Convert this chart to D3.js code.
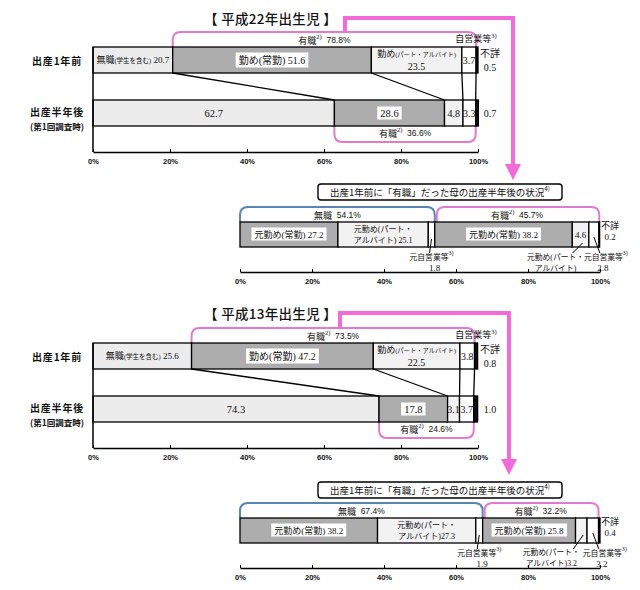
<!DOCTYPE html>
<html>
<head>
<meta charset="utf-8">
<script src="https://cdn.jsdelivr.net/npm/d3@7"></script>
<style>
  body { margin: 0; background: #fff; }
  svg text { font-family: "Liberation Serif", "Noto Sans CJK JP", serif; fill: #111; }
</style>
</head>
<body>
<div id="chart"></div>
<script>
// ---- data ----
const tickLabels = ['0%', '20%', '40%', '60%', '80%', '100%'];
const tickValues = [0, 20, 40, 60, 80, 100];
const rowLabels = ['出産1年前', '出産半年後'];
const rowNote = '(第1回調査時)';
const mainCats = ['無職(学生を含む)', '勤め(常勤)', '勤め(パート・アルバイト)', '自営業等', '不詳'];
const subCats = ['元勤め(常勤)', '元勤め(パート・アルバイト)', '元自営業等',
                 '元勤め(常勤)', '元勤め(パート・アルバイト)', '元自営業等', '不詳'];
const groupCats = ['無職', '有職'];
const subTitle = '出産1年前に「有職」だった母の出産半年後の状況';

// 平成22年出生児
const h22Before = [20.7, 51.6, 23.5, 3.7, 0.5];
const h22After = [62.7, 28.6, 4.8, 3.3, 0.7];
const h22Employed = [78.8, 36.6];
const h22Sub = [27.2, 25.1, 1.8, 38.2, 4.6, 2.8, 0.2];
const h22SubGroups = [54.1, 45.7];

// 平成13年出生児
const h13Before = [25.6, 47.2, 22.5, 3.8, 0.8];
const h13After = [74.3, 17.8, 3.1, 3.7, 1.0];
const h13Employed = [73.5, 24.6];
const h13Sub = [38.2, 27.3, 1.9, 25.8, 3.2, 3.2, 0.4];
const h13SubGroups = [67.4, 32.2];

// ---- setup ----
const svg = d3.select('#chart').append('svg')
    .attr('width', 640)
    .attr('height', 590);

const fmt = d3.format('.1f');
const xMain = d3.scaleLinear().domain([0, 100]).range([93, 478]);
const xSub = d3.scaleLinear().domain([0, 100]).range([240, 600]);

const mainFill = ['#ececec', '#adadad', '#f2f2f2', '#ffffff', '#111111'];
const subFill = ['#adadad', '#f2f2f2', '#ffffff', '#adadad', '#f2f2f2', '#ffffff', '#111111'];
const PINK = '#e07bd0', ARROW = '#f36ad9', BLUE = '#5a84b4';
const GOTHIC = '"Noto Sans CJK JP", sans-serif';
const SANS = '"Liberation Sans", Arial, sans-serif';

function stackOf(vals) {
  const ends = Array.from(d3.cumsum(vals));
  return vals.map((v, i) => ({v: v, x0: ends[i] - v, x1: ends[i], i: i}));
}

// text with tspans; parts may be strings or {t, s (size), sup, f (family), w (weight)}
function label(g, x, y, parts, o = {}) {
  const t = g.append('text')
      .attr('x', x)
      .attr('y', y)
      .attr('text-anchor', o.anchor || 'middle')
      .attr('dominant-baseline', 'central')
      .style('font-size', (o.size || 9) + 'px');
  if (o.family) t.style('font-family', o.family);
  if (o.weight) t.style('font-weight', o.weight);
  if (o.spacing) t.style('letter-spacing', o.spacing + 'px');
  let shift = 0;
  (Array.isArray(parts) ? parts : [parts]).forEach(p => {
    if (typeof p === 'string') p = {t: p};
    const s = t.append('tspan').text(p.t);
    if (p.s) s.style('font-size', p.s + 'px');
    if (p.f) s.style('font-family', p.f);
    if (p.w) s.style('font-weight', p.w);
    const want = p.sup ? -4 : 0;
    if (want !== shift) { s.attr('dy', want - shift); shift = want; }
  });
  return t;
}

function boxed(g, t, padX, padY) {
  const b = t.node().getBBox();
  g.insert('rect', () => t.node())
      .attr('x', b.x - padX)
      .attr('y', b.y - padY)
      .attr('width', b.width + padX * 2)
      .attr('height', b.height + padY * 2)
      .attr('fill', '#fff');
}

function bracket(g, x0, x1, yLine, yEnd, color) {
  const r = 8, dir = yEnd > yLine ? 1 : -1;
  g.append('path')
      .attr('d', `M${x0},${yEnd} V${yLine + dir * r} Q${x0},${yLine} ${x0 + r},${yLine}` +
                 ` H${x1 - r} Q${x1},${yLine} ${x1},${yLine + dir * r} V${yEnd}`)
      .attr('fill', 'none')
      .attr('stroke', color)
      .attr('stroke-width', 2);
}

function axis(g, x, y) {
  const ax = g.append('g')
      .attr('transform', `translate(0,${y})`)
      .call(d3.axisBottom(x)
        .tickValues(tickValues)
        .tickFormat((d, i) => tickLabels[i])
        .tickSizeInner(-3)
        .tickSizeOuter(0)
        .tickPadding(7));
  ax.select('.domain').attr('stroke', '#000').attr('stroke-width', 1.5);
  ax.selectAll('.tick line').attr('stroke', '#000');
  ax.selectAll('.tick text')
      .style('font-family', SANS)
      .style('font-weight', 'bold')
      .style('font-size', '7.5px')
      .attr('fill', '#222');
}

function pctParts(name, v, sup) {
  const p = [{t: name, f: GOTHIC}];
  if (sup) p.push({t: sup, sup: true, s: 6.5});
  p.push({t: '\u00a0\u00a0' + fmt(v) + '%', f: SANS, s: 8.5});
  return p;
}

// ---- main panel (before / half year after) ----
function drawMain(cfg) {
  const g = svg.append('g');
  const h = 26, y1 = cfg.top, y2 = cfg.top + 53, yAxis = cfg.top + 105;
  const sb = stackOf(cfg.before), sa = stackOf(cfg.after);

  label(g, 204, cfg.titleY, `【 ${cfg.title} 】`,
      {anchor: 'start', size: 13.5, family: GOTHIC, weight: 500, spacing: 0.3});

  // row labels
  label(g, 57, y1 + 13, rowLabels[0], {size: 10, family: GOTHIC, weight: 'bold', spacing: 0.8});
  label(g, 57, y2 + 11, rowLabels[1], {size: 10, family: GOTHIC, weight: 'bold', spacing: 0.8});
  label(g, 57, y2 + 26, rowNote, {size: 8.5, family: GOTHIC, weight: 'bold'});

  // pink arrow to the sub chart
  g.append('path')
      .attr('d', `M${cfg.arrowX0},${y1 - 15} V${cfg.titleY} H${cfg.arrowX1} V${cfg.arrowTip - 14}`)
      .attr('fill', 'none')
      .attr('stroke', ARROW)
      .attr('stroke-width', 4);
  g.append('path')
      .attr('d', `M${cfg.arrowX1 - 8},${cfg.arrowTip - 16} H${cfg.arrowX1 + 8} L${cfg.arrowX1},${cfg.arrowTip} Z`)
      .attr('fill', ARROW);

  // brackets for 有職
  const e1 = d3.sum(cfg.before.slice(1, 4)), e2 = d3.sum(cfg.after.slice(1, 4));
  bracket(g, xMain(cfg.before[0]), xMain(cfg.before[0] + e1), y1 - 15, y1, PINK);
  bracket(g, xMain(cfg.after[0]), xMain(cfg.after[0] + e2), y2 + h + 16, y2 + h, PINK);
  label(g, (xMain(cfg.before[0]) + xMain(cfg.before[0] + e1)) / 2, y1 - 7,
      pctParts('有職', cfg.employed[0], '2)'), {size: 9});
  label(g, (xMain(cfg.after[0]) + xMain(cfg.after[0] + e2)) / 2, y2 + h + 7,
      pctParts('有職', cfg.employed[1], '2)'), {size: 9});

  // bars
  [{s: sb, y: y1}, {s: sa, y: y2}].forEach(row => {
    g.selectAll(null)
        .data(row.s)
        .join('rect')
        .attr('x', d => xMain(d.x0))
        .attr('y', row.y)
        .attr('width', d => xMain(d.x1) - xMain(d.x0))
        .attr('height', h)
        .attr('fill', d => mainFill[d.i])
        .attr('stroke', '#000')
        .attr('stroke-width', 1.3);
  });

  // connectors between the two bars
  g.selectAll(null)
      .data(sb.slice(0, 4))
      .join('line')
      .attr('x1', d => xMain(d.x1))
      .attr('y1', y1 + h)
      .attr('x2', (d, i) => xMain(sa[i].x1))
      .attr('y2', y2)
      .attr('stroke', '#000')
      .attr('stroke-width', 1.3);

  // left frame + axis
  g.append('line')
      .attr('x1', xMain(0)).attr('x2', xMain(0))
      .attr('y1', y1).attr('y2', yAxis)
      .attr('stroke', '#000').attr('stroke-width', 1.5);
  axis(g, xMain, yAxis);

  // labels, upper bar
  const cx = d => (xMain(d.x0) + xMain(d.x1)) / 2;
  const [b0, b1, b2, b3, b4] = sb;
  const n0 = mainCats[0].split('(');
  label(g, cx(b0), y1 + 13, [n0[0], {t: '(' + n0[1], s: 6.5}, ' ' + fmt(b0.v)], {size: 9});
  const t1 = label(g, cx(b1), y1 + 13, mainCats[1] + ' ' + fmt(b1.v), {size: 10});
  boxed(g, t1, 3, 1);
  const n2 = mainCats[2].split('(');
  label(g, cx(b2), y1 + 7, [n2[0], {t: '(' + n2[1], s: 6.3}], {size: 9});
  label(g, cx(b2), y1 + 19, fmt(b2.v), {size: 10});
  label(g, cx(b3), y1 + 13, fmt(b3.v), {size: 10});
  label(g, xMain(100) + 12, y1 + 6, mainCats[4], {size: 10});
  label(g, xMain(100) + 12, y1 + 20, fmt(b4.v), {size: 10});
  label(g, xMain(99.5), y1 - 8, [mainCats[3], {t: '3)', sup: true, s: 6.5}], {size: 9});

  // labels, lower bar
  const [a0, a1, a2, a3, a4] = sa;
  label(g, cx(a0), y2 + 13, fmt(a0.v), {size: 10.5});
  const t2 = label(g, cx(a1), y2 + 13, fmt(a1.v), {size: 10.5});
  boxed(g, t2, 3, 1);
  label(g, cx(a2), y2 + 13, fmt(a2.v), {size: 10});
  label(g, cx(a3), y2 + 13, fmt(a3.v), {size: 10});
  label(g, xMain(100) + 12, y2 + 13, fmt(a4.v), {size: 10});
}

// ---- sub panel (those who had a job one year before) ----
function drawSub(cfg) {
  const g = svg.append('g');
  const h = 25, yb = cfg.top, yAxis = cfg.top + 50;
  const s = stackOf(cfg.vals);
  const cx = d => (xSub(d.x0) + xSub(d.x1)) / 2;

  // title box
  g.append('rect')
      .attr('x', 318).attr('y', cfg.boxY)
      .attr('width', 244).attr('height', 16).attr('rx', 3)
      .attr('fill', '#fff').attr('stroke', '#000').attr('stroke-width', 1.4);
  label(g, 440, cfg.boxY + 8, [subTitle, {t: '4)', sup: true, s: 6.5}], {size: 9.5, family: GOTHIC});

  // group brackets
  const g0 = cfg.groups[0], g1 = cfg.groups[1];
  bracket(g, xSub(0), xSub(g0), yb - 15, yb, BLUE);
  bracket(g, xSub(g0) + 2, xSub(g0 + g1), yb - 15, yb, PINK);
  label(g, (xSub(0) + xSub(g0)) / 2, yb - 7, pctParts(groupCats[0], g0), {size: 9});
  label(g, (xSub(g0) + xSub(g0 + g1)) / 2, yb - 7, pctParts(groupCats[1], g1, '2)'), {size: 9});

  // bar
  g.selectAll(null)
      .data(s)
      .join('rect')
      .attr('x', d => xSub(d.x0))
      .attr('y', yb)
      .attr('width', d => xSub(d.x1) - xSub(d.x0))
      .attr('height', h)
      .attr('fill', d => subFill[d.i])
      .attr('stroke', '#000')
      .attr('stroke-width', 1.3);

  axis(g, xSub, yAxis);

  const leader = (xa, ya, xb, yb2) => g.append('line')
      .attr('x1', xa).attr('y1', ya).attr('x2', xb).attr('y2', yb2)
      .attr('stroke', '#000').attr('stroke-width', 1);

  // inside labels
  const tA = label(g, cx(s[0]), yb + 12.5, subCats[0] + ' ' + fmt(s[0].v), {size: 9});
  boxed(g, tA, 3, 1);
  const p1 = subCats[1].split('・');
  label(g, cx(s[1]), yb + 7, p1[0] + '・', {size: 8});
  label(g, cx(s[1]), yb + 18, p1[1] + cfg.sep + fmt(s[1].v), {size: 8});
  const tB = label(g, cx(s[3]), yb + 12.5, subCats[3] + ' ' + fmt(s[3].v), {size: 9});
  boxed(g, tB, 3, 1);

  // 元自営業等 (無職 side)
  leader(cx(s[2]), yb + 17, cx(s[2]) - 2, yb + 31);
  label(g, cx(s[2]), yb + 35, [subCats[2], {t: '3)', sup: true, s: 6}], {size: 7.8});
  label(g, cx(s[2]) + 3, yb + 46, fmt(s[2].v), {size: 9});

  // 元勤め(パート) (有職 side)
  const p4 = subCats[4].split('・');
  if (cfg.partInside) {
    label(g, cx(s[4]), yb + 12.5, fmt(s[4].v), {size: 9});
    leader(cx(s[4]) + 2, yb + 21, cx(s[4]) - 8, yb + 31);
    label(g, cx(s[4]) - 25, yb + 35, p4[0] + '・', {size: 7.8});
    label(g, cx(s[4]) - 25, yb + 46, p4[1], {size: 7.8});
  } else {
    leader(cx(s[4]) + 2, yb + 17, cx(s[4]) - 8, yb + 31);
    label(g, cx(s[4]) - 30, yb + 34, p4[0] + '・', {size: 7.8});
    label(g, cx(s[4]) - 30, yb + 45, p4[1] + fmt(s[4].v), {size: 7.8});
  }

  // 元自営業等 (有職 side)
  leader(cx(s[5]), yb + 15, cx(s[5]) + 6, yb + 31);
  label(g, cx(s[5]) + 12, yb + 35, [subCats[5], {t: '3)', sup: true, s: 6}], {size: 7.8});
  label(g, cx(s[5]) + 9, yb + 46, fmt(s[5].v), {size: 9});

  // 不詳
  label(g, xSub(100) + 10, yb + 4, subCats[6], {size: 9});
  label(g, xSub(100) + 10, yb + 15, fmt(s[6].v), {size: 9});
}

drawMain({title: '平成22年出生児', titleY: 18, top: 47,
  before: h22Before, after: h22After, employed: h22Employed,
  arrowX0: 345, arrowX1: 513, arrowTip: 180});
drawSub({top: 222, boxY: 184, vals: h22Sub, groups: h22SubGroups, sep: ' ', partInside: true});

drawMain({title: '平成13年出生児', titleY: 313, top: 343,
  before: h13Before, after: h13After, employed: h13Employed,
  arrowX0: 340, arrowX1: 509, arrowTip: 475});
drawSub({top: 518, boxY: 482, vals: h13Sub, groups: h13SubGroups, sep: '', partInside: false});
</script>
</body>
</html>
